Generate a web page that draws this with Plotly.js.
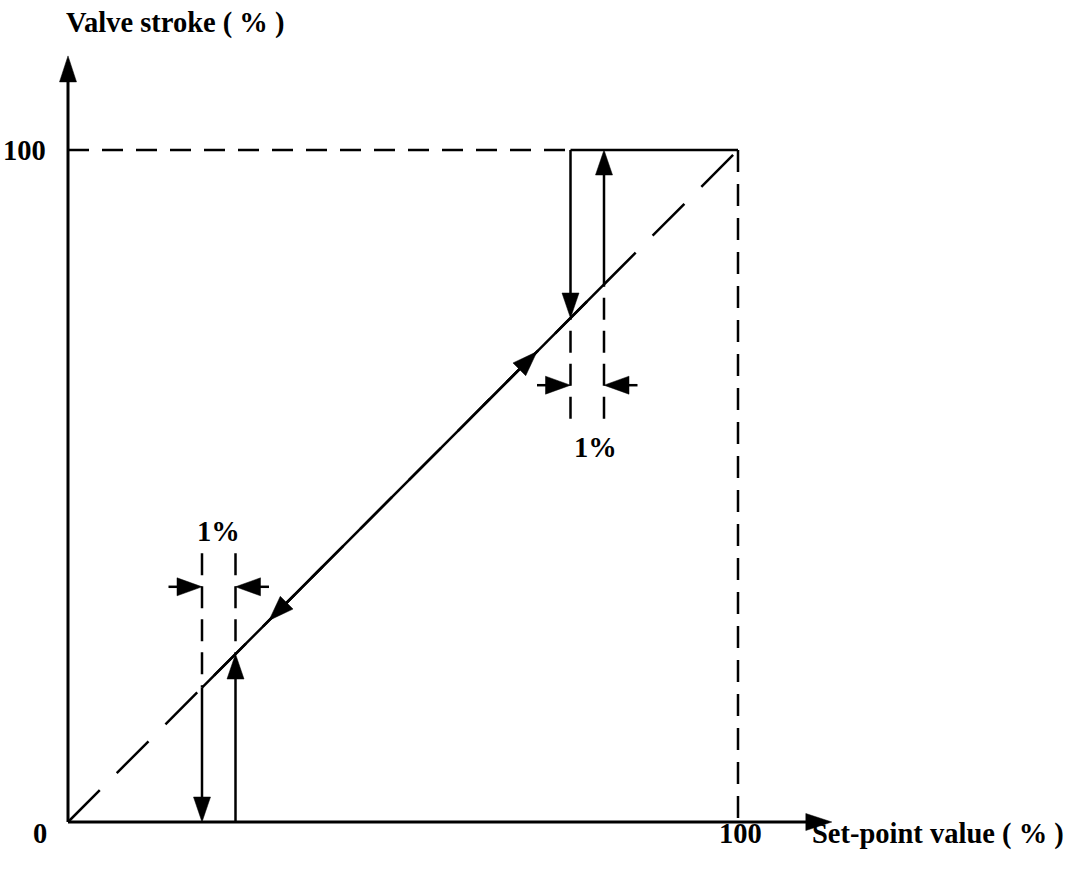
<!DOCTYPE html>
<html><head><meta charset="utf-8">
<script src="https://cdn.plot.ly/plotly-3.0.1.min.js"></script>
<style>html,body{margin:0;padding:0;background:#fff}</style>
</head><body><div id="chart" style="width:1073px;height:878px"></div>
<script>
// ---------- data (all values in percent) ----------
const axisTip = 114;                 // where the axis arrows end
const tickValues = [0, 100];
const tickLabels = ['0', '100'];
const xTitle = 'Set-point value ( % )';
const yTitle = 'Valve stroke ( % )';

// ideal characteristic (dashed diagonal) and the solid working range
const idealX = [0, 100];
const idealY = [0, 100];
const workX = [20, 80];
const workY = [20, 80];

// full-scale frame
const topDashX = [0, 75];
const topDashY = [100, 100];
const topSolidX = [75, 100];
const topSolidY = [100, 100];
const rightDashX = [100, 100];
const rightDashY = [100, 0];

// reversal points (1 % dead band)
const lowRevX = [20, 25];
const highRevX = [75, 80];
const lowGuideTop = 40;
const highGuideBottom = 60;
const lowMarkY = 35;
const highMarkY = 65;
const markLen = 5;

// vertical stroke arrows [x0, y0, x1, y1]  (tip at x1,y1)
const strokeArrows = [
  [20, 20, 20, 0],
  [25, 0, 25, 25],
  [75, 100, 75, 75],
  [80, 80, 80, 100]
];
// arrows on the diagonal [x0, y0, x1, y1]
const diagArrows = [
  [62, 62, 70, 70],
  [38, 38, 30, 30]
];
// "1%" labels [x, y]
const bandLabelX = [22.5, 78.7];
const bandLabelY = [43.2, 55.7];

// ---------- layout geometry ----------
const W = 1073, H = 878;
const xRange = [-68 / 6.7, -68 / 6.7 + W / 6.7];
const yRange = [-56 / 6.72, 100 + 150 / 6.72];
const sx = W / (xRange[1] - xRange[0]);   // px per unit
const sy = H / (yRange[1] - yRange[0]);

// ---------- build ----------
const BLACK = '#000';
const FONT = 'Liberation Serif, Times New Roman, serif';
const traces = [];
function seg(x, y, width, dash) {
  traces.push({x: x, y: y, mode: 'lines', hoverinfo: 'skip',
    line: {color: BLACK, width: width, dash: dash || 'solid'}});
}
function arrow(x0, y0, x1, y1, width, L, hw) {
  const dxp = (x1 - x0) * sx, dyp = (y1 - y0) * sy;
  const len = Math.hypot(dxp, dyp);
  const ux = dxp / len, uy = dyp / len;
  const bx = x1 - L * ux / sx, by = y1 - L * uy / sy;
  const nx = -uy, ny = ux;
  seg([x0, x1 - 0.5 * L * ux / sx], [y0, y1 - 0.5 * L * uy / sy], width);
  traces.push({
    x: [x1, bx + hw * nx / sx, bx - hw * nx / sx, x1],
    y: [y1, by + hw * ny / sy, by - hw * ny / sy, y1],
    mode: 'lines', fill: 'toself', fillcolor: BLACK, hoverinfo: 'skip',
    line: {color: BLACK, width: 0.5}
  });
}

// axes
arrow(0, 0, axisTip, 0, 3, 26, 8.5);
arrow(0, 0, 0, axisTip, 3, 26, 8.5);

// diagonal
seg(idealX, idealY, 2.5, '45px,24px');
seg(workX, workY, 2.5);

// frame
seg(topDashX, topDashY, 2.5, '21px,13px');
seg(topSolidX, topSolidY, 2.5);
seg(rightDashX, rightDashY, 2.5, '22px,12px');

// guide lines
lowRevX.forEach(function (x) { seg([x, x], [lowGuideTop, x], 2.5, '22px,11px'); });
highRevX.forEach(function (x) { seg([x, x], [highGuideBottom, x], 2.5, '22px,11px'); });

// dead-band marker arrows
arrow(lowRevX[0] - markLen, lowMarkY, lowRevX[0], lowMarkY, 2.5, 25, 9);
arrow(lowRevX[1] + markLen, lowMarkY, lowRevX[1], lowMarkY, 2.5, 25, 9);
arrow(highRevX[0] - markLen, highMarkY, highRevX[0], highMarkY, 2.5, 25, 9);
arrow(highRevX[1] + markLen, highMarkY, highRevX[1], highMarkY, 2.5, 25, 9);

strokeArrows.forEach(function (a) { arrow(a[0], a[1], a[2], a[3], 2.5, 25, 8.5); });
diagArrows.forEach(function (a) { arrow(a[0], a[1], a[2], a[3], 2.5, 25, 9); });

const txt = {family: FONT, size: 28.5, color: BLACK, weight: 'bold'};
const annotations = [];
bandLabelX.forEach(function (x, i) {
  annotations.push({x: x, y: bandLabelY[i], text: '1%', showarrow: false, font: txt,
    xanchor: 'center', yanchor: 'middle'});
});
// origin label and x tick
annotations.push({x: tickValues[0], y: tickValues[0], text: tickLabels[0], showarrow: false, font: txt,
  xanchor: 'center', yanchor: 'middle', xshift: -28, yshift: -11});
annotations.push({x: tickValues[1], y: tickValues[0], text: tickLabels[1], showarrow: false, font: txt,
  xanchor: 'center', yanchor: 'middle', xshift: 2, yshift: -11});
// y tick
annotations.push({x: tickValues[0], y: tickValues[1], text: tickLabels[1], showarrow: false, font: txt,
  xanchor: 'right', yanchor: 'middle', xshift: -20});
// titles
annotations.push({x: 64 / W, y: 1 - 23 / H, xref: 'paper', yref: 'paper', text: yTitle,
  showarrow: false, font: txt, xanchor: 'left', yanchor: 'middle'});
annotations.push({x: 1066 / W, y: 1 - 834 / H, xref: 'paper', yref: 'paper', text: xTitle,
  showarrow: false, font: txt, xanchor: 'right', yanchor: 'middle'});

const layout = {
  width: W, height: H,
  margin: {l: 0, r: 0, t: 0, b: 0},
  paper_bgcolor: '#fff', plot_bgcolor: '#fff',
  showlegend: false,
  xaxis: {range: xRange, visible: false, fixedrange: true},
  yaxis: {range: yRange, visible: false, fixedrange: true},
  annotations: annotations
};
Plotly.newPlot('chart', traces, layout, {staticPlot: true});
</script>
</body></html>
